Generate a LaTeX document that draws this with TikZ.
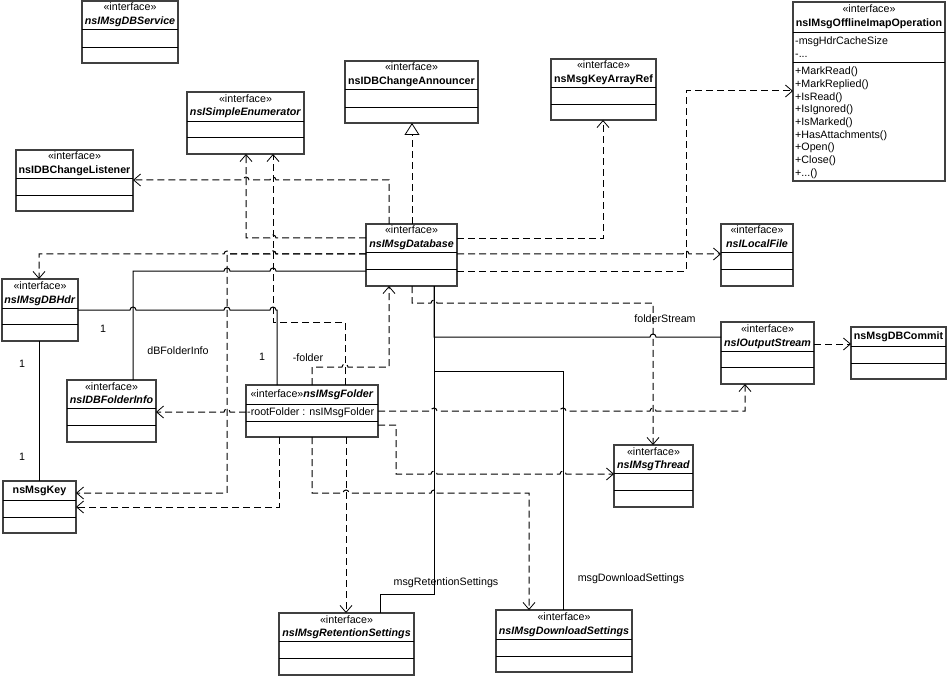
\documentclass[tikz,border=0pt]{standalone}
\usepackage{fontspec}
\setmainfont{Liberation Sans}
\usetikzlibrary{arrows.meta}

\tikzset{
  classbox/.style = {draw = black!75, line width = 1.3pt, fill = white, inner sep = 0pt, outer sep = 0pt},
  divider/.style = {line width = 0.9pt},
  titletext/.style = {align = center, inner sep = 0pt},
  members/.style = {align = left, inner sep = 0pt, font = \fontsize{10.7}{12.7}\selectfont},
  lbl/.style = {anchor = base, inner sep = 0pt},
  assoc/.style = {line width = 1pt},
  dep/.style = {line width = 1pt, dash pattern = on 7pt off 4pt, -{Straight Barb[length = 7pt, width = 12pt, line width = 0.8pt]}},
  realize/.style = {line width = 1pt, dash pattern = on 7pt off 4pt, -{Triangle[open, length = 12pt, width = 15pt, line width = 0.8pt]}},
  hopr/.style = {insert path = {arc[start angle = 180, end angle = 360, radius = 3]}},
  hopl/.style = {insert path = {arc[start angle = 0, end angle = -180, radius = 3]}}
}

\newcommand{\ifc}[1]{\rule{0pt}{8pt}«interface»\\\textbf{\textit{#1}}\rule[-2.5pt]{0pt}{2.5pt}}
\newcommand{\ifcup}[1]{\rule{0pt}{8pt}«interface»\\\textbf{#1}\rule[-2.5pt]{0pt}{2.5pt}}
\newcommand{\cls}[1]{\rule{0pt}{8pt}#1\rule[-2.5pt]{0pt}{2.5pt}}

% name, left, top, right, bottom, divider 1, divider 2, title
\newcommand{\umlbox}[8]{%
  \node[classbox, minimum width = {#4-#2}, minimum height = {#5-#3}] (#1) at ({(#2+#4)/2}, {(#3+#5)/2}) {};
  \draw[divider] (#2,#6) -- (#4,#6) (#2,#7) -- (#4,#7);
  \node[titletext] (#1-title) at ({(#2+#4)/2}, {(#3+#6)/2}) {#8};
}

\begin{document}
\begin{tikzpicture}%
    [x = 1pt, y = -1pt, font = \fontsize{10.7}{13.5}\selectfont]
    \useasboundingbox (0,0) rectangle (947,676);

    \umlbox{dbservice}{82}{1}{178}{63}{29}{47}{\ifc{nsIMsgDBService}}
    \umlbox{enumerator}{187}{92}{304}{154}{121}{137}{\ifc{nsISimpleEnumerator}}
    \umlbox{listener}{16}{150}{133}{211}{178}{195}{\ifcup{nsIDBChangeListener}}
    \umlbox{announcer}{345}{61}{478}{123}{89}{107}{\ifcup{nsIDBChangeAnnouncer}}
    \umlbox{keyarray}{551}{59}{656}{120}{87}{104}{\ifcup{nsMsgKeyArrayRef}}
    \umlbox{offline}{793}{2}{945}{181}{32}{62}{\ifcup{nsIMsgOfflineImapOperation}}
    \umlbox{database}{366}{224}{457}{286}{252}{269}{\ifc{nsIMsgDatabase}}
    \umlbox{localfile}{721}{224}{793}{286}{252}{269}{\ifc{nsILocalFile}}
    \umlbox{outstream}{721}{322}{814}{384}{351}{367}{\ifc{nsIOutputStream}}
    \umlbox{dbcommit}{851}{327}{946}{379}{346}{363}{\cls{\textbf{nsMsgDBCommit}}}
    \umlbox{dbhdr}{2}{279}{78}{341}{308}{324}{\ifc{nsIMsgDBHdr}}
    \umlbox{folderinfo}{67}{380}{156}{442}{408}{425}{\ifc{nsIDBFolderInfo}}
    \umlbox{folder}{246}{385}{378}{437}{404}{421}{\cls{«interface»\textbf{\textit{nsIMsgFolder}}}}
    \umlbox{msgkey}{3}{481}{76}{533}{500}{517}{\cls{\textbf{nsMsgKey}}}
    \umlbox{thread}{614}{445}{693}{507}{473}{490}{\ifc{nsIMsgThread}}
    \umlbox{retention}{279}{613}{414}{675}{641}{658}{\ifc{nsIMsgRetentionSettings}}
    \umlbox{download}{496}{610}{632}{672}{639}{656}{\ifc{nsIMsgDownloadSettings}}

    \node[members, anchor = north west] (offline-attr) at (795,35.5)
        {\rule{0pt}{9pt}-msgHdrCacheSize\\-...};
    \node[members, anchor = north west] (offline-ops) at (795,65.5)
        {\rule{0pt}{9pt}+MarkRead()\\+MarkReplied()\\+IsRead()\\+IsIgnored()\\+IsMarked()\\+HasAttachments()\\+Open()\\+Close()\\+...()};
    \node[members, anchor = west] (folder-attr) at (247,412.5) {\cls{-rootFolder : nsIMsgFolder}};

    \draw[realize] (database.north -| 412,0) -- (announcer.south -| 412,0);
    \draw[dep] (database.east |- 0,239) -- (603,239) -- (keyarray.south -| 603,0);
    \draw[dep] (database.east |- 0,254) -- (683,254) [hopr] -- (localfile.west |- 0,254);
    \draw[dep] (database.east |- 0,271) -- (686,271) -- (686,91) -- (offline.west |- 0,91);

    \draw[dep] (database.north -| 389,0) -- (389,180) -- (276,180) [hopl] -- (249,180) [hopl] -- (listener.east |- 0,180);
    \draw[dep] (database.west |- 0,238) -- (276,238) [hopl] -- (246,238) -- (enumerator.south -| 246,0);
    \draw[dep] (database.west |- 0,254) -- (276,254) [hopl] -- (230,254) [hopl] -- (39,254) -- (dbhdr.north -| 39,0);
    \draw[dep] (database.west |- 0,254) -- (276,254) [hopl] -- (227,254) -- (227,493) -- (msgkey.east |- 0,493);
    \draw[assoc] (database.west |- 0,271) -- (276,271) [hopl] -- (230,271) [hopl] -- (133,271) -- (folderinfo.north -| 133,0);
    \node[lbl] (info-lbl) at (178,354) {dBFolderInfo};

    \draw[assoc] (dbhdr.east |- 0,310) -- (130,310) [hopr] -- (224,310) [hopr] -- (270,310) [hopr] -- (277,310) -- (folder.north -| 277,0);
    \node[lbl] (hdr-one) at (103,332) {1};
    \node[lbl] (folder-one) at (262,360) {1};
    \draw[assoc] (dbhdr.south -| 39,0) -- (msgkey.north -| 39,0);
    \node[lbl] (hdr-key-one) at (22,367) {1};
    \node[lbl] (key-one) at (22,460) {1};

    \draw[dep] (folder.north -| 345,0) -- (345,322) -- (273,322) -- (enumerator.south -| 273,0);
    \draw[dep] (folder.north -| 312,0) -- (312,367) -- (342,367) [hopr] -- (389,367) -- (database.south -| 389,0);
    \node[lbl] (folder-lbl) at (308,361) {-folder};

    \draw[dep] (database.south -| 412,0) -- (412,303) -- (431,303) [hopr] -- (653,303) -- (thread.north -| 653,0);
    \draw[assoc] (database.south -| 434,0) -- (434,337) -- (650,337) [hopr] -- (outstream.west |- 0,337);
    \node[lbl] (stream-lbl) at (665,322) {folderStream};
    \draw[assoc] (database.south -| 434,0) -- (434,371) -- (563,371) -- (download.north -| 563,0);
    \node[lbl] (download-lbl) at (631,581) {msgDownloadSettings};
    \draw[assoc] (database.south -| 434,0) -- (434,594) -- (380,594) -- (retention.north -| 380,0);
    \node[lbl] (retention-lbl) at (446,585) {msgRetentionSettings};

    \draw[dep] (folder.east |- 0,411) -- (431,411) [hopr] -- (560,411) [hopr] -- (650,411) [hopr] -- (745,411) -- (outstream.south -| 745,0);
    \draw[dep] (folder.east |- 0,425) -- (396,425) -- (396,474) -- (431,474) [hopr] -- (560,474) [hopr] -- (thread.west |- 0,474);
    \draw[dep] (folder.west |- 0,412) -- (230,412) [hopl] -- (folderinfo.east |- 0,412);
    \draw[dep] (folder.south -| 279,0) -- (279,507) -- (msgkey.east |- 0,507);
    \draw[dep] (folder.south -| 312,0) -- (312,493) -- (343,493) [hopr] -- (431,493) [hopr] -- (529,493) -- (download.north -| 529,0);
    \draw[dep] (folder.south -| 346,0) -- (retention.north -| 346,0);

    \draw[dep] (outstream.east |- 0,344) -- (dbcommit.west |- 0,344);
\end{tikzpicture}
\end{document}
